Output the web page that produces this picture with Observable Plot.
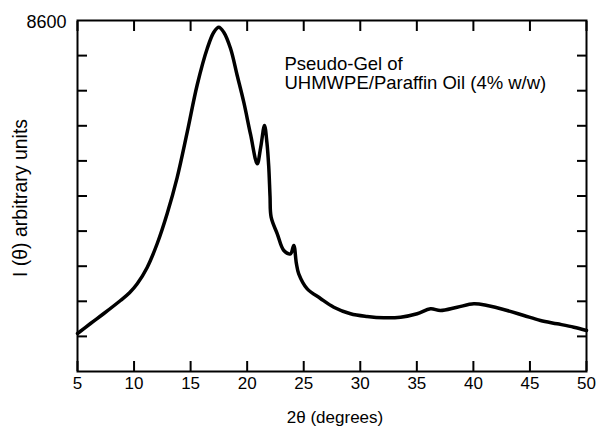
<!DOCTYPE html>
<html>
<head>
<meta charset="utf-8">
<script src="https://cdn.jsdelivr.net/npm/d3@7"></script>
<script src="https://cdn.jsdelivr.net/npm/@observablehq/plot@0.6"></script>
<style>
  html, body { margin: 0; padding: 0; background: #fff; }
  #chart svg { display: block; }
</style>
</head>
<body>
<div id="chart"></div>
<script>
// 2θ (degrees)
const theta = [5, 6.15, 7.33, 8.8, 9.6, 10.28, 11.16, 12.05, 12.93, 13.81, 14.7, 15.58, 16.47, 17.05, 17.49, 17.93, 18.53, 19.12, 19.7, 20.3, 20.89, 21.2, 21.53, 21.75, 21.91, 22.02, 22.12, 22.66, 23.24, 23.83, 24.12, 24.35, 24.56, 25.31, 26.48, 27.66, 29.14, 30.61, 32.08, 33.56, 35.03, 36.21, 37.09, 38.57, 40.04, 41.22, 42.99, 44.46, 45.93, 47.41, 48.88, 50];
// I(θ), arbitrary units
const intensity = [931, 1176, 1421, 1740, 1930, 2150, 2550, 3136, 3871, 4750, 5863, 7020, 7914, 8313, 8435, 8313, 7914, 7252, 6598, 5807, 5089, 5500, 6027, 5600, 5005, 4300, 3780, 3374, 2965, 2884, 3087, 2650, 2394, 2026, 1790, 1575, 1414, 1348, 1316, 1330, 1414, 1536, 1495, 1575, 1659, 1617, 1495, 1372, 1250, 1169, 1085, 1005];

const xTicks = [5, 10, 15, 20, 25, 30, 35, 40, 45, 50];
const yTicks = [860, 1720, 2580, 3440, 4300, 5160, 6020, 6880, 7740];
const yTopLabel = [8600];
const xLabel = "2θ (degrees)";
const yLabel = "I (θ) arbitrary units";
const note = "Pseudo-Gel of\nUHMWPE/Paraffin Oil (4% w/w)";

const data = theta.map((t, i) => ({theta: t, intensity: intensity[i]}));

const chart = Plot.plot({
  width: 600,
  height: 430,
  marginTop: 20,
  marginRight: 14,
  marginBottom: 59,
  marginLeft: 77,
  style: {fontFamily: "'Liberation Sans', Arial, sans-serif", color: "#000", background: "#fff"},
  x: {domain: [5, 50]},
  y: {domain: [0, 8600]},
  marks: [
    Plot.frame({stroke: "#000", strokeWidth: 2}),
    Plot.axisX({anchor: "bottom", ticks: xTicks, tickSize: -10, tickPadding: 15, strokeWidth: 2, fontSize: 17, label: null}),
    Plot.axisX({anchor: "top", ticks: xTicks, tickSize: -10, strokeWidth: 2, fill: "none", label: null}),
    Plot.axisY({anchor: "left", ticks: yTicks, tickSize: -10, strokeWidth: 2, fill: "none", label: null}),
    Plot.axisY({anchor: "right", ticks: yTicks, tickSize: -10, strokeWidth: 2, fill: "none", label: null}),
    Plot.axisY({anchor: "left", ticks: yTopLabel, tickFormat: d => String(d), tickSize: 0, tickPadding: 11, fontSize: 18, dy: 2, label: null}),
    Plot.text([xLabel], {frameAnchor: "bottom", textAnchor: "middle", lineAnchor: "middle", dx: 3, dy: 46, fontSize: 17}),
    Plot.text([yLabel], {frameAnchor: "left", textAnchor: "middle", lineAnchor: "middle", rotate: -90, dx: -57, dy: 2, fontSize: 19.5}),
    Plot.text([note], {x: () => 23.3, y: () => 7720, textAnchor: "start", lineAnchor: "top", lineHeight: 1.02, fontSize: 18.5}),
    Plot.line(data, {x: "theta", y: "intensity", stroke: "#000", strokeWidth: 3.5, strokeLinejoin: "round", curve: "catmull-rom"})
  ]
});
document.getElementById("chart").append(chart);
</script>
</body>
</html>
